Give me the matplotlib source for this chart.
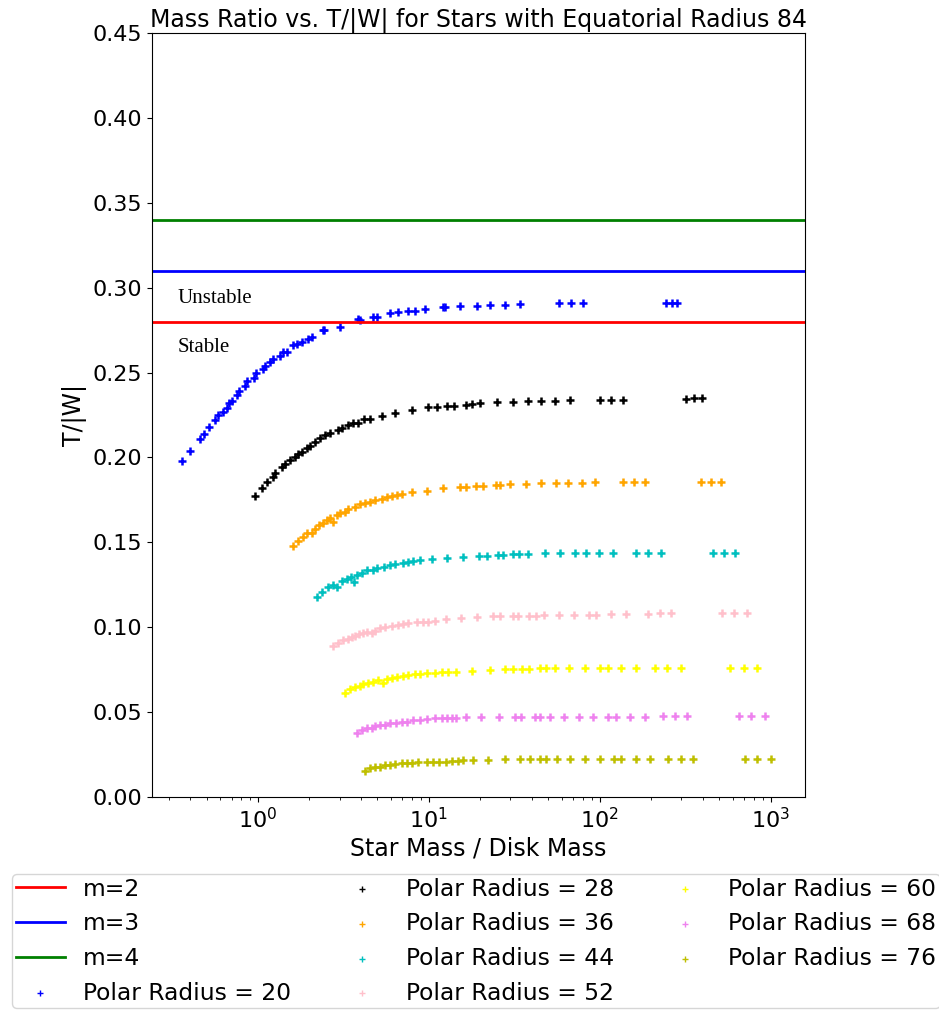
import matplotlib
matplotlib.use('Agg')
import matplotlib.pyplot as plt

# Критические значения T/|W| для мод m=2,3,4
mode_labels = ['m=2', 'm=3', 'm=4']
mode_limits = [0.28, 0.31, 0.34]
mode_colors = ['r', 'b', 'g']

polar_radii = [20, 28, 36, 44, 52, 60, 68, 76]
series_colors = ['b', 'k', 'orange', 'c', 'pink', 'yellow', 'violet', 'y']

# Star Mass / Disk Mass и T/|W| для каждого полярного радиуса
ratio_20 = [0.36, 0.40, 0.458, 0.483, 0.517, 0.56, 0.584, 0.62, 0.659, 0.677,
            0.70, 0.754, 0.77, 0.839, 0.86, 0.947, 0.97, 1.07, 1.10, 1.18,
            1.22, 1.35, 1.40, 1.48, 1.60, 1.70, 1.81, 1.95, 2.07, 2.40,
            2.45, 3.02, 3.85, 3.95, 4.7, 5.0, 5.9, 6.6, 7.5, 8.3,
            9.5, 12.1, 12.4, 15.2, 19.1, 22.7, 27.8, 34.0, 57.5, 67.6,
            79.6, 246, 264, 282]
tw_20 = [0.198, 0.204, 0.211, 0.214, 0.218, 0.222, 0.225, 0.227, 0.229, 0.232,
         0.233, 0.237, 0.239, 0.242, 0.245, 0.247, 0.250, 0.252, 0.254, 0.256,
         0.258, 0.260, 0.262, 0.262, 0.266, 0.267, 0.268, 0.270, 0.271, 0.275,
         0.275, 0.277, 0.2815, 0.281, 0.283, 0.283, 0.2852, 0.2856, 0.2862, 0.2862,
         0.2874, 0.2886, 0.2886, 0.289, 0.2893, 0.2897, 0.2899, 0.2903, 0.291, 0.291,
         0.291, 0.291, 0.291, 0.291]

ratio_28 = [0.96, 1.05, 1.13, 1.23, 1.26, 1.38, 1.44, 1.54, 1.65, 1.72,
            1.80, 1.93, 2.01, 2.15, 2.31, 2.47, 2.64, 2.95, 3.09, 3.37,
            3.61, 3.86, 4.17, 4.52, 5.29, 6.32, 7.92, 9.91, 11.1, 12.7,
            14.0, 16.5, 17.8, 19.9, 24.9, 31.1, 38.1, 45.6, 55.1, 66.8,
            100, 117, 137, 318, 355, 399]
tw_28 = [0.1773, 0.1818, 0.1857, 0.1886, 0.1906, 0.1942, 0.1961, 0.1985, 0.2004, 0.2020,
         0.2034, 0.2054, 0.2067, 0.2092, 0.2112, 0.2132, 0.2145, 0.2161, 0.2171, 0.2191,
         0.2201, 0.2204, 0.2224, 0.2224, 0.2244, 0.2263, 0.2279, 0.2295, 0.2300, 0.2304,
         0.2304, 0.2309, 0.2313, 0.2319, 0.2326, 0.2326, 0.2332, 0.2332, 0.2332, 0.2338,
         0.2338, 0.2338, 0.2338, 0.2342, 0.2348, 0.2348]

ratio_36 = [1.61, 1.72, 1.83, 1.94, 2.08, 2.15, 2.28, 2.39, 2.52, 2.64,
            2.73, 2.89, 3.02, 3.23, 3.37, 3.69, 3.95, 4.22, 4.52, 4.83,
            5.29, 5.66, 6.05, 6.47, 6.92, 7.92, 9.70, 12.1, 15.2, 16.6,
            19.0, 20.8, 24.6, 26.0, 29.8, 36.9, 45.6, 55.8, 65.3, 79.2,
            93.5, 136, 159, 185, 393, 446, 515]
tw_36 = [0.1478, 0.1509, 0.1533, 0.1557, 0.1553, 0.1577, 0.1602, 0.1615, 0.1631, 0.1641,
         0.1621, 0.1661, 0.1674, 0.1680, 0.1694, 0.1706, 0.1726, 0.1733, 0.1739, 0.1749,
         0.1753, 0.1765, 0.1773, 0.1779, 0.1784, 0.1798, 0.1804, 0.1818, 0.1827, 0.1827,
         0.1832, 0.1832, 0.1837, 0.1837, 0.1843, 0.1843, 0.1851, 0.1851, 0.1851, 0.1851,
         0.1857, 0.1857, 0.1857, 0.1857, 0.1857, 0.1857, 0.1857]

ratio_44 = [2.20, 2.36, 2.58, 2.76, 2.91, 3.09, 3.30, 3.48, 3.64, 3.81,
            4.04, 4.36, 4.69, 4.94, 5.45, 5.91, 6.32, 7.08, 7.57, 8.10,
            8.86, 10.4, 12.7, 15.8, 19.7, 21.9, 25.4, 27.0, 31.1, 33.7,
            38.1, 47.7, 58.3, 71.4, 82.8, 99.1, 119, 163, 192, 227,
            460, 533, 622]
tw_44 = [0.1180, 0.1209, 0.1235, 0.1249, 0.1235, 0.1274, 0.1282, 0.1294, 0.1268, 0.1307,
         0.1317, 0.1337, 0.1337, 0.1347, 0.1353, 0.1366, 0.1372, 0.1380, 0.1386, 0.1392,
         0.1396, 0.1400, 0.1406, 0.1415, 0.1419, 0.1419, 0.1425, 0.1425, 0.1429, 0.1429,
         0.1431, 0.1435, 0.1435, 0.1439, 0.1439, 0.1439, 0.1439, 0.1439, 0.1439, 0.1439,
         0.1439, 0.1439, 0.1439]

ratio_52 = [2.76, 2.95, 3.15, 3.37, 3.56, 3.69, 3.91, 4.13, 4.36, 4.62,
            4.83, 5.17, 5.53, 6.05, 6.61, 7.08, 7.57, 8.47, 9.26, 9.91,
            10.8, 12.6, 15.5, 19.2, 23.6, 26.0, 30.9, 33.3, 38.6, 42.2,
            47.1, 57.8, 70.5, 86.6, 95.7, 117, 142, 192, 224, 263,
            522, 615, 731]
tw_52 = [0.0889, 0.0909, 0.0925, 0.0929, 0.0941, 0.0948, 0.0960, 0.0964, 0.0973, 0.0968,
         0.0979, 0.0994, 0.0999, 0.1007, 0.1013, 0.1019, 0.1023, 0.1029, 0.1032, 0.1032,
         0.1038, 0.1047, 0.1056, 0.1062, 0.1066, 0.1066, 0.1066, 0.1066, 0.1066, 0.1066,
         0.1072, 0.1072, 0.1072, 0.1072, 0.1072, 0.1076, 0.1076, 0.1076, 0.1082, 0.1082,
         0.1082, 0.1082, 0.1082]

ratio_60 = [3.23, 3.45, 3.69, 3.95, 4.13, 4.42, 4.72, 5.05, 5.40, 5.66,
            6.05, 6.53, 7.08, 7.57, 8.28, 8.86, 9.77, 10.8, 11.9, 13.0,
            14.5, 17.8, 22.7, 27.8, 30.9, 35.3, 38.6, 44.6, 48.8, 54.6,
            66.1, 81.7, 100, 112, 134, 163, 212, 249, 298, 581,
            695, 836]
tw_60 = [0.0614, 0.0634, 0.0646, 0.0654, 0.0665, 0.0673, 0.0679, 0.0689, 0.0673, 0.0693,
         0.0699, 0.0705, 0.0713, 0.0718, 0.0724, 0.0724, 0.0728, 0.0732, 0.0738, 0.0738,
         0.0738, 0.0744, 0.0748, 0.0752, 0.0752, 0.0752, 0.0752, 0.0758, 0.0758, 0.0758,
         0.0758, 0.0758, 0.0758, 0.0758, 0.0758, 0.0758, 0.0758, 0.0758, 0.0758, 0.0758,
         0.0758, 0.0758]

ratio_68 = [3.81, 4.04, 4.32, 4.62, 4.83, 5.17, 5.53, 5.91, 6.41, 6.92,
            7.41, 8.10, 8.86, 9.70, 10.8, 11.9, 12.7, 13.6, 14.5, 16.5,
            20.3, 25.8, 31.8, 34.8, 41.7, 44.6, 51.0, 61.5, 75.7, 91.0,
            112, 125, 151, 183, 234, 275, 324, 653, 771, 923]
tw_68 = [0.0375, 0.0395, 0.0405, 0.0405, 0.0418, 0.0424, 0.0424, 0.0434, 0.0438, 0.0443,
         0.0443, 0.0453, 0.0453, 0.0458, 0.0463, 0.0463, 0.0463, 0.0463, 0.0463, 0.0469,
         0.0469, 0.0469, 0.0473, 0.0473, 0.0473, 0.0473, 0.0473, 0.0473, 0.0473, 0.0473,
         0.0473, 0.0473, 0.0473, 0.0473, 0.0479, 0.0479, 0.0479, 0.0479, 0.0479, 0.0479]

ratio_76 = [4.22, 4.52, 4.83, 5.17, 5.53, 5.91, 6.32, 6.92, 7.41, 7.92,
            8.66, 9.70, 10.6, 11.5, 12.6, 13.6, 14.8, 15.9, 18.2, 22.2,
            27.8, 34.0, 39.0, 44.6, 48.8, 56.3, 67.4, 82.2, 100, 122,
            134, 163, 196, 251, 298, 351, 705, 836, 1009]
tw_76 = [0.0155, 0.0169, 0.0178, 0.0178, 0.0188, 0.0188, 0.0194, 0.0198, 0.0198, 0.0202,
         0.0204, 0.0204, 0.0208, 0.0208, 0.0208, 0.0212, 0.0214, 0.0218, 0.0218, 0.0218,
         0.0222, 0.0224, 0.0224, 0.0224, 0.0224, 0.0224, 0.0224, 0.0226, 0.0226, 0.0226,
         0.0226, 0.0226, 0.0226, 0.0226, 0.0226, 0.0226, 0.0226, 0.0226, 0.0226]

all_ratios = [ratio_20, ratio_28, ratio_36, ratio_44, ratio_52, ratio_60, ratio_68, ratio_76]
all_tw = [tw_20, tw_28, tw_36, tw_44, tw_52, tw_60, tw_68, tw_76]

fig = plt.figure(figsize=(9.39, 10.13), dpi=100)
ax = fig.add_axes([0.162, 0.2132, 0.695, 0.7542])

for label, level, color in zip(mode_labels, mode_limits, mode_colors):
    ax.axhline(level, color=color, linewidth=2, label=label)

for radius, xs, ys, color in zip(polar_radii, all_ratios, all_tw, series_colors):
    ax.scatter(xs, ys, marker='+', s=36, linewidths=1.8, color=color,
               label=f'Polar Radius = {radius}')

ax.set_xscale('log')
ax.set_xlim(0.24, 1585)
ax.set_ylim(0, 0.45)
ax.set_yticks([0.0, 0.05, 0.10, 0.15, 0.20, 0.25, 0.30, 0.35, 0.40, 0.45])
ax.tick_params(labelsize=16)

ax.text(0.34, 0.2935, 'Unstable', family='Liberation Serif', fontsize=15, va='center')
ax.text(0.34, 0.2645, 'Stable', family='Liberation Serif', fontsize=15, va='center')

ax.set_title('Mass Ratio vs. T/|W| for Stars with Equatorial Radius 84',
             fontsize=17, pad=4)
ax.set_xlabel('Star Mass / Disk Mass', fontsize=17, labelpad=3)
ax.set_ylabel('T/|W|', fontsize=17)

leg = fig.legend(loc='upper left', bbox_to_anchor=(0.0128, 0.1372),
                 bbox_transform=fig.transFigure, ncol=3, fontsize=16.8,
                 borderaxespad=0, borderpad=0.15, handlelength=2.1,
                 handletextpad=0.8, columnspacing=2.0, markerscale=0.7)
for handle in leg.legend_handles[3:]:
    handle.set_linewidths(1.0)

fig.savefig('out.png', dpi=100)
